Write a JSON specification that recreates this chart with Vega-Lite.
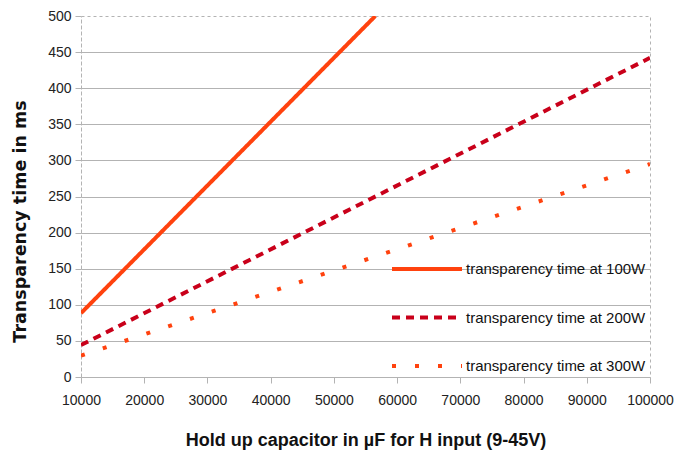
{
  "$schema": "https://vega.github.io/schema/vega-lite/v6.json",
  "autosize": "none",
  "width": 569,
  "height": 361,
  "padding": {"left": 81, "top": 16, "right": 40, "bottom": 78},
  "background": "white",
  "config": {
    "font": "Liberation Sans",
    "view": {"stroke": "#b3b3b3", "strokeDash": [3, 3], "strokeWidth": 1}
  },
  "data": {
    "values": [
      {"c": 10000, "t": 88.4, "s": "transparency time at 100W"},
      {"c": 56560, "t": 500, "s": "transparency time at 100W"},
      {"c": 10000, "t": 44.2, "s": "transparency time at 200W"},
      {"c": 100000, "t": 442, "s": "transparency time at 200W"},
      {"c": 10000, "t": 29.5, "s": "transparency time at 300W"},
      {"c": 100000, "t": 295, "s": "transparency time at 300W"}
    ]
  },
  "mark": {"type": "line", "strokeWidth": 4, "strokeCap": "butt", "clip": true},
  "encoding": {
    "x": {
      "field": "c", "type": "quantitative",
      "scale": {"domain": [10000, 100000], "nice": false, "zero": false},
      "axis": {
        "values": [10000, 20000, 30000, 40000, 50000, 60000, 70000, 80000, 90000, 100000],
        "format": "d", "grid": false, "labelFlush": false,
        "domainColor": "#b3b3b3", "tickColor": "#b3b3b3", "tickSize": 6,
        "labelFontSize": 14, "labelColor": "#222222", "labelPadding": 10,
        "title": "Hold up capacitor in µF for H input (9-45V)",
        "titleFontSize": 18, "titleFontWeight": "bold", "titleColor": "#111111",
        "titlePadding": 24
      }
    },
    "y": {
      "field": "t", "type": "quantitative",
      "scale": {"domain": [0, 500], "nice": false},
      "axis": {
        "values": [0, 50, 100, 150, 200, 250, 300, 350, 400, 450, 500],
        "domainColor": "#b3b3b3", "domainDash": [3, 3],
        "tickColor": "#b3b3b3", "tickSize": 6,
        "gridColor": "#b3b3b3",
        "gridOpacity": {"condition": {"test": "datum.value === 500 || datum.value === 0", "value": 0}, "value": 1},
        "labelFontSize": 14, "labelColor": "#222222", "labelPadding": 4,
        "title": "Transparency time in ms",
        "titleFont": "DejaVu Sans",
        "titleFontSize": 17.5, "titleFontWeight": "bold", "titleColor": "#111111",
        "titlePadding": 18, "titleY": 205
      }
    },
    "color": {
      "field": "s", "type": "nominal",
      "scale": {
        "domain": ["transparency time at 100W", "transparency time at 200W", "transparency time at 300W"],
        "range": ["#ff420e", "#c9001a", "#ff420e"]
      },
      "legend": {
        "title": null, "orient": "none", "legendX": 309, "legendY": 216,
        "symbolType": "stroke", "symbolSize": 4900, "symbolStrokeWidth": 4,
        "rowPadding": 3.5, "labelFontSize": 15, "labelColor": "#111111", "labelOffset": 2, "labelLimit": 0
      }
    },
    "strokeDash": {
      "field": "s", "type": "nominal",
      "scale": {
        "domain": ["transparency time at 100W", "transparency time at 200W", "transparency time at 300W"],
        "range": [[1, 0], [8, 6], [4, 19]]
      },
      "legend": {
        "title": null, "orient": "none", "legendX": 309, "legendY": 216,
        "symbolType": "stroke", "symbolSize": 4900, "symbolStrokeWidth": 4,
        "rowPadding": 3.5, "labelFontSize": 15, "labelColor": "#111111", "labelOffset": 2, "labelLimit": 0
      }
    }
  }
}
